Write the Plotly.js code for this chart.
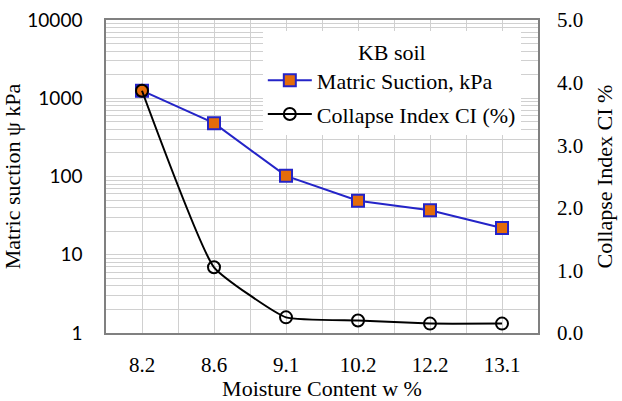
<!DOCTYPE html>
<html>
<head>
<meta charset="utf-8">
<script src="https://cdn.plot.ly/plotly-3.0.1.min.js"></script>
<style>
  html, body { margin: 0; padding: 0; background: #ffffff; }
  #chart { width: 622px; height: 401px; }
</style>
</head>
<body>
<div id="chart"></div>
<script>
// Moisture content categories (w %)
const moisture = ['8.2', '8.6', '9.1', '10.2', '12.2', '13.1'];
// Matric suction, kPa (left log axis)
const suction = [1250, 480, 102, 49, 37, 22];
// Collapse index CI, % (right axis)
const collapseIndex = [3.87, 1.05, 0.25, 0.20, 0.15, 0.15];

const xIdx = moisture.map((_, i) => i);
const serif = 'Liberation Serif';
const gridCol = '#d0d0d0';
const frameCol = '#808080';

const traces = [
  {
    x: xIdx, y: suction, yaxis: 'y', name: 'Matric Suction, kPa',
    type: 'scatter', mode: 'lines+markers', legendgroup: 'a',
    line: { color: '#2424C8', width: 2 },
    marker: { symbol: 'square', size: 12, color: '#E46C0A', line: { color: '#2424C8', width: 2 } }
  },
  {
    x: xIdx, y: collapseIndex, yaxis: 'y2', name: 'Collapse Index CI (%)',
    type: 'scatter', mode: 'lines+markers', legendgroup: 'b',
    line: { color: '#000000', width: 2, shape: 'spline', smoothing: 0.4 },
    marker: { symbol: 'circle-open', size: 12, color: '#000000', line: { color: '#000000', width: 2 } }
  }
];

const layout = {
  width: 622, height: 401,
  margin: { l: 106, r: 84, t: 20, b: 68 },
  font: { family: serif, size: 21, color: '#000000' },
  legend: {
    x: 0.363, y: 0.965, xanchor: 'left', yanchor: 'top',
    bgcolor: '#ffffff',
    font: { family: serif, size: 22 },
    title: { text: 'KB soil', side: 'top center', font: { family: serif, size: 22 } },
    itemwidth: 44, tracegroupgap: 2, traceorder: 'grouped'
  },
  xaxis: {
    type: 'linear', range: [-0.5, 5.5],
    tickmode: 'array', tickvals: xIdx, ticktext: moisture,
    ticks: '', ticklabelstandoff: 12,
    title: { text: 'Moisture Content w %', standoff: 8, font: { family: serif, size: 22 } },
    showgrid: true, gridcolor: gridCol,
    minor: { tickmode: 'linear', tick0: -0.5, dtick: 1, showgrid: true, gridcolor: gridCol },
    showline: true, linecolor: frameCol, linewidth: 1.5, mirror: true,
    zeroline: false
  },
  yaxis: {
    type: 'log', range: [0, 4], dtick: 1, tickformat: 'd',
    ticks: '', ticklabelstandoff: 18,
    tickfont: { family: 'Lato', size: 19 },
    title: { text: 'Matric suction ψ kPa', standoff: 4, font: { family: serif, size: 22 } },
    showgrid: true, gridcolor: gridCol,
    minor: { dtick: 'D1', showgrid: true, gridcolor: gridCol },
    showline: true, linecolor: frameCol, linewidth: 1.5, mirror: true,
    zeroline: false
  },
  yaxis2: {
    overlaying: 'y', side: 'right', range: [0, 5], dtick: 1, tickformat: '.1f',
    ticks: '', ticklabelstandoff: 18,
    title: { text: 'Collapse Index CI %', standoff: 14, font: { family: serif, size: 22 } },
    showgrid: false, zeroline: false
  }
};

Plotly.newPlot('chart', traces, layout, { displayModeBar: false });
</script>
</body>
</html>
